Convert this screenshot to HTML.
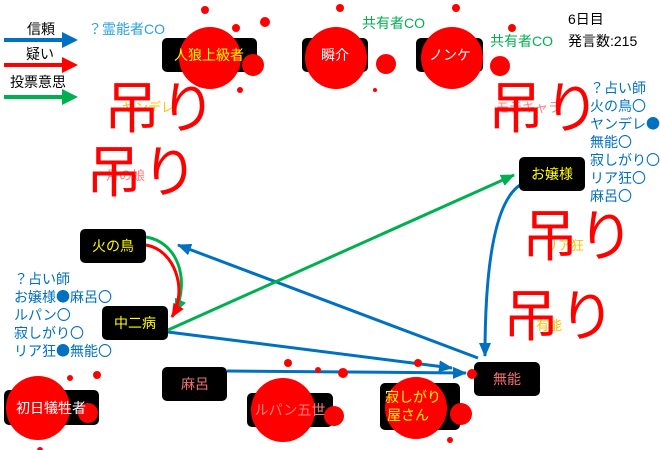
<!DOCTYPE html>
<html><head><meta charset="utf-8"><style>
html,body{margin:0;padding:0;background:#fff;}
svg{display:block;font-family:"Liberation Sans","Noto Sans CJK JP",sans-serif;}
.c{font-family:"Noto Sans CJK JP",sans-serif;}
</style></head><body>
<svg width="660" height="450" viewBox="0 0 660 450" xmlns="http://www.w3.org/2000/svg">
<defs>
<marker id="mb" markerWidth="14" markerHeight="12" refX="13" refY="6" orient="auto" markerUnits="userSpaceOnUse"><path d="M0,0 L14,6 L0,12 z" fill="#0070c0"/></marker>
<marker id="mr" markerWidth="14" markerHeight="12" refX="13" refY="6" orient="auto" markerUnits="userSpaceOnUse"><path d="M0,0 L14,6 L0,12 z" fill="#ff0000"/></marker>
<marker id="mg" markerWidth="14" markerHeight="12" refX="13" refY="6" orient="auto" markerUnits="userSpaceOnUse"><path d="M0,0 L14,6 L0,12 z" fill="#00b050"/></marker>
</defs>

<!-- legend -->
<g font-size="14" fill="#000">
<text x="27" y="34">信頼</text>
<text x="26" y="59">疑い</text>
<text x="10" y="87">投票意思</text>
</g>
<line x1="4" y1="40" x2="62" y2="40" stroke="#0070c0" stroke-width="4"/>
<path d="M62,32 L78,40 L62,48 z" fill="#0070c0"/>
<line x1="4" y1="65" x2="62" y2="65" stroke="#ff0000" stroke-width="4"/>
<path d="M62,57 L78,65 L62,73 z" fill="#ff0000"/>
<line x1="4" y1="97" x2="62" y2="97" stroke="#00b050" stroke-width="4"/>
<path d="M62,89 L78,97 L62,105 z" fill="#00b050"/>

<text x="88" y="34" font-size="14" fill="#2aa0e0">？霊能者CO</text>
<text x="362" y="28" font-size="14" fill="#00b050">共有者CO</text>
<text x="490" y="46" font-size="14" fill="#00b050">共有者CO</text>
<text x="568" y="24" font-size="14" fill="#000">6日目</text>
<text x="568" y="46" font-size="14" fill="#000">発言数:215</text>

<!-- faint labels -->
<text x="122" y="112" font-size="13" fill="#ffc000">ヤンデレ</text>
<text x="106" y="180" font-size="13" fill="#ff8080">月の娘</text>
<text x="496" y="112" font-size="13" fill="#ff8080">モテキャラ</text>
<text x="545" y="250" font-size="13" fill="#ffc000">リア狂</text>
<text x="536" y="330" font-size="13" fill="#ffc000">有能</text>

<!-- 吊り -->
<g font-size="56" fill="#ff0000">
<text x="104" y="128">吊り</text>
<text x="86" y="192">吊り</text>
<text x="488" y="128">吊り</text>
<text x="522" y="256">吊り</text>
<text x="503" y="336">吊り</text>
</g>

<!-- lists -->
<g font-size="14" fill="#0070c0">
<text x="590" y="93">？占い師</text>
<text x="590" y="111">火の鳥<tspan class="c">〇</tspan></text>
<text x="590" y="129">ヤンデレ<tspan class="c">●</tspan></text>
<text x="590" y="147">無能<tspan class="c">〇</tspan></text>
<text x="590" y="165">寂しがり<tspan class="c">〇</tspan></text>
<text x="590" y="183">リア狂<tspan class="c">〇</tspan></text>
<text x="590" y="201">麻呂<tspan class="c">〇</tspan></text>
<text x="14" y="284">？占い師</text>
<text x="14" y="302">お嬢様<tspan class="c">●</tspan>麻呂<tspan class="c">〇</tspan></text>
<text x="14" y="320">ルパン<tspan class="c">〇</tspan></text>
<text x="14" y="338">寂しがり<tspan class="c">〇</tspan></text>
<text x="14" y="356">リア狂<tspan class="c">●</tspan>無能<tspan class="c">〇</tspan></text>
</g>

<!-- connectors -->
<g fill="none" stroke-width="3">
<path d="M478,358 L178,245" stroke="#0070c0" marker-end="url(#mb)"/>
<path d="M168,332 L452,368" stroke="#0070c0" marker-end="url(#mb)"/>
<path d="M227,371 L466,373" stroke="#0070c0" marker-end="url(#mb)"/>
<path d="M520,185 C490,205 485,290 485,356" stroke="#0070c0" marker-end="url(#mb)"/>
<path d="M168,330 L514,175" stroke="#00b050" marker-end="url(#mg)"/>
<path d="M146,237 C178,242 190,280 175,312" stroke="#00b050" marker-end="url(#mg)"/>
<path d="M146,245 C175,250 188,290 172,317" stroke="#ff0000" marker-end="url(#mr)"/>
</g>

<!-- nodes -->
<g fill="#000">
<rect x="162" y="38" width="95" height="34" rx="5"/>
<rect x="302" y="38" width="66" height="34" rx="5"/>
<rect x="416" y="38" width="67" height="34" rx="5"/>
<rect x="519" y="157" width="66" height="34" rx="5"/>
<rect x="80" y="229" width="66" height="34" rx="5"/>
<rect x="102" y="306" width="66" height="34" rx="5"/>
<rect x="162" y="367" width="65" height="34" rx="5"/>
<rect x="4" y="390" width="95" height="35" rx="5"/>
<rect x="247" y="393" width="86" height="34" rx="5"/>
<rect x="380" y="383" width="80" height="47" rx="5"/>
<rect x="474" y="362" width="66" height="34" rx="5"/>
</g>

<!-- blood -->
<g fill="#ff0000">
<circle cx="210" cy="58" r="31"/><circle cx="253" cy="65" r="11"/><circle cx="205" cy="10" r="4"/><circle cx="236" cy="28" r="4"/><circle cx="265" cy="22" r="5"/><circle cx="240" cy="90" r="3"/>
<circle cx="336" cy="58" r="31"/><circle cx="386" cy="64" r="10"/><circle cx="340" cy="8" r="4"/><circle cx="375" cy="90" r="2"/>
<circle cx="452" cy="58" r="31"/><circle cx="500" cy="66" r="10"/><circle cx="456" cy="8" r="4"/><circle cx="512" cy="28" r="4"/>
<circle cx="38" cy="408" r="32"/><circle cx="88" cy="413" r="10"/><circle cx="40" cy="450" r="3"/><circle cx="97" cy="375" r="4"/><circle cx="70" cy="378" r="3"/>
<circle cx="283" cy="410" r="32"/><circle cx="334" cy="416" r="10"/><circle cx="288" cy="363" r="4"/><circle cx="318" cy="370" r="3"/>
<circle cx="416" cy="408" r="31"/><circle cx="461" cy="414" r="11"/><circle cx="418" cy="363" r="4"/><circle cx="343" cy="373" r="5"/><circle cx="472" cy="374" r="5"/><circle cx="450" cy="440" r="3"/>
</g>

<!-- node labels -->
<g font-size="14" text-anchor="middle">
<text x="209" y="60" fill="#ffff00">人狼上級者</text>
<text x="335" y="60" fill="#fff">瞬介</text>
<text x="450" y="60" fill="#fff">ノンケ</text>
<text x="552" y="179" fill="#ffff00">お嬢様</text>
<text x="113" y="251" fill="#ffff00">火の鳥</text>
<text x="135" y="328" fill="#ffff00">中二病</text>
<text x="195" y="389" fill="#f07070">麻呂</text>
<text x="51" y="413" fill="#fff">初日犠牲者</text>
<text x="290" y="415" fill="#ff8080">ルパン五世</text>
<text x="413" y="402" fill="#ffff00">寂しがり</text>
<text x="408" y="420" fill="#ffff00">屋さん</text>
<text x="507" y="384" fill="#f07070">無能</text>
</g>
</svg>
</body></html>
